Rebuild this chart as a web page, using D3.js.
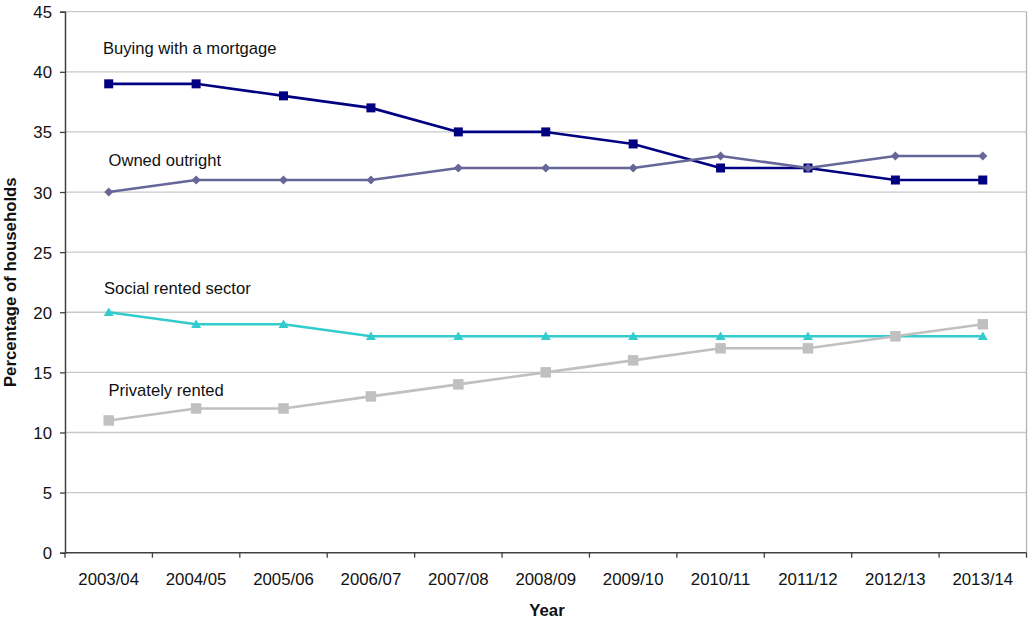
<!DOCTYPE html>
<html>
<head>
<meta charset="utf-8">
<script src="https://cdn.jsdelivr.net/npm/d3@7"></script>
<style>
  html, body { margin: 0; padding: 0; background: #fff; }
  svg { display: block; font-family: "Liberation Sans", Arial, sans-serif; }
</style>
</head>
<body>
<svg id="chart" width="1028" height="622"></svg>
<script>
// Household tenure, percentage of households by year
const years = ["2003/04","2004/05","2005/06","2006/07","2007/08","2008/09","2009/10","2010/11","2011/12","2012/13","2013/14"];
const buyingMortgage = [39,39,38,37,35,35,34,32,32,31,31];
const ownedOutright  = [30,31,31,31,32,32,32,33,32,33,33];
const socialRented   = [20,19,19,18,18,18,18,18,18,18,18];
const privatelyRented = [11,12,12,13,14,15,16,17,17,18,19];
const yTicks = [0,5,10,15,20,25,30,35,40,45];

const seriesNames = ["Buying with a mortgage","Owned outright","Social rented sector","Privately rented"];

const series = [
  { name: seriesNames[0], values: buyingMortgage, color: "#000080", marker: "square", size: 9,
    label: { x: 103, y: 54 } },
  { name: seriesNames[1], values: ownedOutright, color: "#666699", marker: "diamond", size: 9,
    label: { x: 108.5, y: 166 } },
  { name: seriesNames[2], values: socialRented, color: "#33CCCC", marker: "triangle", size: 10,
    label: { x: 104, y: 294 } },
  { name: seriesNames[3], values: privatelyRented, color: "#C0C0C0", marker: "square", size: 10.5,
    label: { x: 108.5, y: 396 } }
];

const svg = d3.select("#chart");
const plot = { left: 65, right: 1026.5, top: 11.7, bottom: 552.7 };

const x = d3.scaleBand().domain(years).range([plot.left, plot.right]);
const y = d3.scaleLinear().domain([0, 45]).range([plot.bottom, plot.top]);

// horizontal gridlines
svg.append("g")
  .selectAll("line")
  .data(yTicks.filter(d => d > 0))
  .join("line")
  .attr("x1", plot.left).attr("x2", plot.right)
  .attr("y1", d => y(d)).attr("y2", d => y(d))
  .attr("stroke", "#c8c8c8").attr("stroke-width", 1.3);

// plot frame: right edge
svg.append("line")
  .attr("x1", plot.right).attr("x2", plot.right)
  .attr("y1", plot.top).attr("y2", plot.bottom)
  .attr("stroke", "#b4b4b4").attr("stroke-width", 1.3);

// y axis
const yAxis = d3.axisLeft(y).tickValues(yTicks).tickSize(5).tickPadding(8);
const gy = svg.append("g").attr("transform", `translate(${plot.left},0)`).call(yAxis);
gy.select(".domain").attr("stroke", "#404040").attr("stroke-width", 1.5);
gy.selectAll(".tick line").attr("stroke", "#404040").attr("stroke-width", 1.3);
gy.selectAll(".tick text").attr("font-size", 16.8).attr("fill", "#111")
  .attr("font-family", "Liberation Sans, Arial, sans-serif").attr("dy", "0.36em");

// x axis with tick marks at category boundaries
const gx = svg.append("g").attr("transform", `translate(0,${plot.bottom})`);
gx.append("line")
  .attr("x1", plot.left).attr("x2", plot.right)
  .attr("y1", 0).attr("y2", 0)
  .attr("stroke", "#404040").attr("stroke-width", 1.5);
const boundaries = years.map(d => x(d)).concat([x(years[years.length - 1]) + x.bandwidth()]);
gx.selectAll("line.tick")
  .data(boundaries)
  .join("line")
  .attr("class", "tick")
  .attr("x1", d => d).attr("x2", d => d)
  .attr("y1", 0).attr("y2", 5)
  .attr("stroke", "#404040").attr("stroke-width", 1.3);
gx.selectAll("text")
  .data(years)
  .join("text")
  .attr("x", d => x(d) + x.bandwidth() / 2)
  .attr("y", 32.5)
  .attr("text-anchor", "middle")
  .attr("font-size", 16.8)
  .attr("fill", "#111")
  .text(d => d);

// axis titles
svg.append("text")
  .attr("x", 547).attr("y", 616)
  .attr("text-anchor", "middle")
  .attr("font-size", 16.8).attr("font-weight", "bold").attr("fill", "#111")
  .text("Year");
svg.append("text")
  .attr("transform", `translate(16,${(plot.top + plot.bottom) / 2}) rotate(-90)`)
  .attr("text-anchor", "middle")
  .attr("font-size", 16.8).attr("font-weight", "bold").attr("fill", "#111")
  .text("Percentage of households");

// series lines and markers
const line = d3.line()
  .x((d, i) => x(years[i]) + x.bandwidth() / 2)
  .y(d => y(d));

function markerPath(type, s) {
  const h = s / 2;
  if (type === "square") return `M${-h},${-h}H${h}V${h}H${-h}Z`;
  if (type === "diamond") return `M0,${-h}L${h},0L0,${h}L${-h},0Z`;
  // triangle
  return `M0,${-h * 0.95}L${h},${h * 0.75}L${-h},${h * 0.75}Z`;
}

series.forEach(s => {
  const g = svg.append("g");
  g.append("path")
    .datum(s.values)
    .attr("d", line)
    .attr("fill", "none")
    .attr("stroke", s.color)
    .attr("stroke-width", 2.6)
    .attr("stroke-linejoin", "round");
  g.selectAll("path.m")
    .data(s.values)
    .join("path")
    .attr("class", "m")
    .attr("transform", (d, i) => `translate(${x(years[i]) + x.bandwidth() / 2},${y(d)})`)
    .attr("d", markerPath(s.marker, s.size))
    .attr("fill", s.color);
  svg.append("text")
    .attr("x", s.label.x).attr("y", s.label.y)
    .attr("font-size", 16.6).attr("fill", "#111")
    .text(s.name);
});
</script>
</body>
</html>
